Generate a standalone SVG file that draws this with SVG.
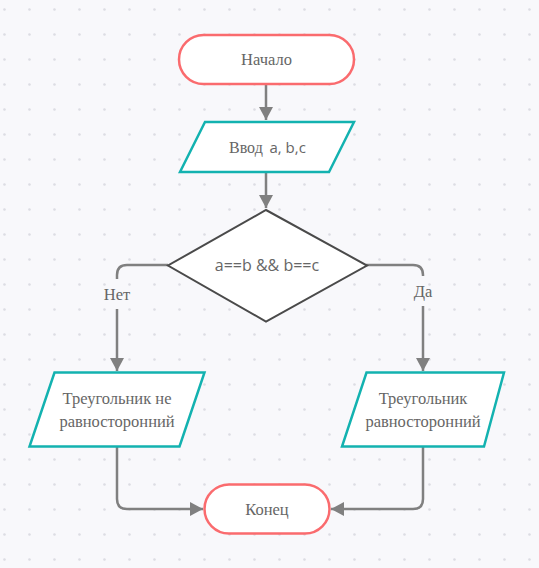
<svg xmlns="http://www.w3.org/2000/svg" width="539" height="568" viewBox="0 0 539 568">
<defs>
<pattern id="dots" x="4" y="9" width="25" height="25" patternUnits="userSpaceOnUse">
<circle cx="0.5" cy="0.5" r="1.3" fill="#dcdde3"/>
<circle cx="25.5" cy="0.5" r="1.3" fill="#dcdde3"/>
<circle cx="0.5" cy="25.5" r="1.3" fill="#dcdde3"/>
<circle cx="25.5" cy="25.5" r="1.3" fill="#dcdde3"/>
</pattern>
<marker id="arr" markerUnits="userSpaceOnUse" markerWidth="14" markerHeight="16" refX="13" refY="7" orient="auto" viewBox="0 0 14 14">
<path d="M0,0 L13,7 L0,14 z" fill="#808080"/>
</marker>
</defs>
<style>
.term{fill:#fff;stroke:#fa6b6e;stroke-width:2.5}
.io{fill:#fff;stroke:#13b2b0;stroke-width:2.5}
.dec{fill:#fff;stroke:#4a4a4a;stroke-width:2}
.con{fill:none;stroke:#808080;stroke-width:2.5}
.ser{font-family:"Liberation Serif","DejaVu Serif",serif;font-size:16.5px;fill:#666;text-anchor:middle}
.san{font-family:"Open Sans","Liberation Sans",sans-serif;font-size:15px;fill:#666}
</style>
<rect width="539" height="568" fill="#f8f8fb"/>
<rect width="539" height="568" fill="url(#dots)"/>
<g id="connectors">
<path class="con" d="M266,85 V120" marker-end="url(#arr)"/>
<path class="con" d="M266,172 V208" marker-end="url(#arr)"/>
<path class="con" d="M168,265 H127 Q117,265 117,275 V279"/>
<path class="con" d="M117,309 V371" marker-end="url(#arr)"/>
<path class="con" d="M366,265 H413 Q423,265 423,275 V276"/>
<path class="con" d="M423,306 V371" marker-end="url(#arr)"/>
<path class="con" d="M117,447 V499 Q117,509 127,509 H203" marker-end="url(#arr)"/>
<path class="con" d="M423,447 V499 Q423,509 413,509 H331" marker-end="url(#arr)"/>
<text class="ser" x="117" y="300">Нет</text>
<text class="ser" x="423" y="297">Да</text>
</g>
<g id="start">
<rect class="term" x="179" y="35" width="175" height="49" rx="24.5"/>
<text class="ser" x="266.5" y="65">Начало</text>
</g>
<g id="input">
<polygon class="io" points="205,122 354,122 329,172 180,172"/>
<text y="153"><tspan x="229" class="ser" style="text-anchor:start;font-size:16px">Ввод</tspan><tspan x="269.5" class="san">a, b,c</tspan></text>
</g>
<g id="decision">
<polygon class="dec" points="266,210 367,265.5 266,321.5 168,265.5"/>
<text class="san" x="267" y="271" style="text-anchor:middle;font-size:16px">a==b &amp;&amp; b==c</text>
</g>
<g id="no">
<polygon class="io" points="54.5,372.5 204.5,372.5 179.5,446.5 29.5,446.5"/>
<text class="ser" x="117" y="404">Треугольник  не</text>
<text class="ser" x="117" y="427">равносторонний</text>
</g>
<g id="yes">
<polygon class="io" points="366.5,372.5 504,372.5 484,446.5 342,446.5"/>
<text class="ser" x="423" y="404">Треугольник</text>
<text class="ser" x="423" y="427">равносторонний</text>
</g>
<g id="end">
<rect class="term" x="204.5" y="484.5" width="125" height="49" rx="24.5"/>
<text class="ser" x="267" y="515">Конец</text>
</g>
</svg>
